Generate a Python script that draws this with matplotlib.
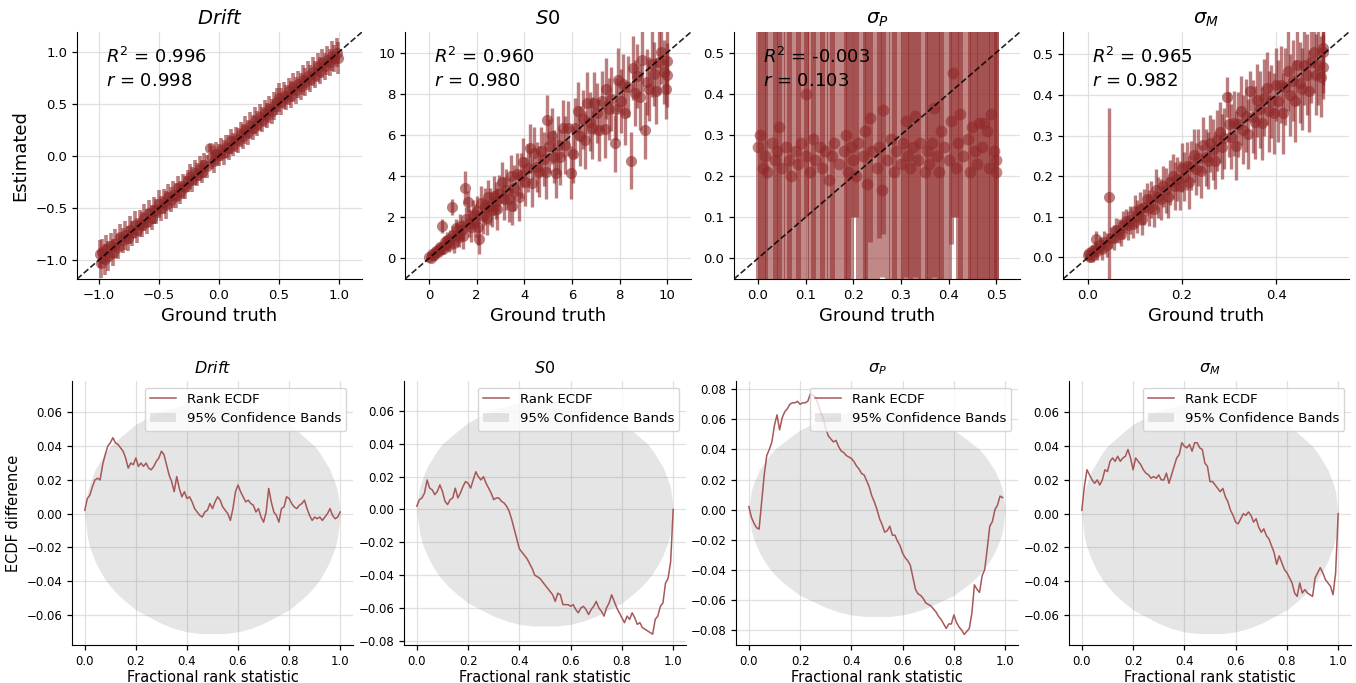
import numpy as np
import matplotlib
matplotlib.use("Agg")
import matplotlib.pyplot as plt
from matplotlib.ticker import MultipleLocator

# ---------------- data ----------------
titles = ["$Drift$", "$S0$", r"$\sigma_P$", r"$\sigma_M$"]
r2_text = ["0.996", "0.960", "-0.003", "0.965"]
r_text = ["0.998", "0.980", "0.103", "0.982"]

drift_true = [-0.99, -0.98, -0.97, -0.95, -0.94, -0.92,
              -0.90, -0.88, -0.86, -0.84, -0.82, -0.80, -0.78, -0.76, -0.74, -0.72,
              -0.70, -0.68, -0.66, -0.64, -0.62, -0.60, -0.58, -0.56, -0.54, -0.52,
              -0.50, -0.48, -0.46, -0.44, -0.42, -0.40, -0.38, -0.36, -0.34, -0.32,
              -0.30, -0.28, -0.26, -0.24, -0.22, -0.20, -0.18, -0.16, -0.14, -0.12, -0.10,
              -0.07, -0.06, -0.04, -0.02,
              0.00, 0.02, 0.04, 0.06, 0.08, 0.10, 0.12, 0.14, 0.16, 0.18,
              0.20, 0.22, 0.24, 0.26, 0.28, 0.30, 0.32, 0.34, 0.36, 0.38,
              0.40, 0.42, 0.44, 0.46, 0.48, 0.50, 0.52, 0.54, 0.56, 0.58,
              0.60, 0.62, 0.64, 0.66, 0.68, 0.70, 0.72, 0.74, 0.76, 0.78,
              0.80, 0.82, 0.84, 0.86, 0.88, 0.90, 0.92, 0.94, 0.96, 0.98,
              0.99]
drift_est = [-0.94, -1.03, -0.92, -0.99, -0.89, -0.96,
             -0.86, -0.93, -0.84, -0.87, -0.78, -0.81, -0.76, -0.79, -0.71, -0.74,
             -0.66, -0.71, -0.65, -0.66, -0.59, -0.63, -0.55, -0.59, -0.52, -0.53,
             -0.46, -0.50, -0.44, -0.47, -0.39, -0.42, -0.37, -0.38, -0.31, -0.35,
             -0.29, -0.30, -0.24, -0.20, -0.23, -0.16, -0.18, -0.12, -0.15, -0.09, -0.10,
             0.08, -0.01, -0.05, 0.02,
             0.01, 0.06, 0.03, 0.09, 0.08, 0.14, 0.11, 0.16, 0.15, 0.21,
             0.19, 0.25, 0.23, 0.29, 0.27, 0.34, 0.31, 0.37, 0.35, 0.41,
             0.39, 0.45, 0.43, 0.48, 0.52, 0.56, 0.52, 0.58, 0.56, 0.62,
             0.59, 0.66, 0.63, 0.69, 0.67, 0.73, 0.71, 0.77, 0.74, 0.81,
             0.78, 0.85, 0.82, 0.89, 0.86, 0.92, 0.90, 0.96, 0.94, 0.99,
             0.94]
drift_err = [0.13, 0.14, 0.12, 0.15, 0.13, 0.14,
             0.12, 0.13, 0.14, 0.12, 0.13, 0.12, 0.14, 0.12, 0.13, 0.12,
             0.13, 0.12, 0.13, 0.12, 0.13, 0.12, 0.13, 0.12, 0.13, 0.12,
             0.13, 0.12, 0.12, 0.13, 0.12, 0.12, 0.13, 0.12, 0.12, 0.11,
             0.12, 0.11, 0.11, 0.12, 0.12, 0.12, 0.11, 0.12, 0.11, 0.12, 0.11,
             0.04, 0.11, 0.11, 0.11,
             0.11, 0.11, 0.12, 0.11, 0.12, 0.12, 0.11, 0.12, 0.12, 0.12,
             0.12, 0.13, 0.12, 0.13, 0.12, 0.13, 0.12, 0.13, 0.12, 0.13,
             0.12, 0.13, 0.12, 0.13, 0.13, 0.14, 0.13, 0.13, 0.12, 0.13,
             0.13, 0.14, 0.13, 0.13, 0.13, 0.14, 0.13, 0.14, 0.13, 0.14,
             0.13, 0.14, 0.13, 0.14, 0.13, 0.14, 0.13, 0.14, 0.13, 0.14,
             0.15]

s0_true = [0.02, 0.08, 0.12, 0.18, 0.22, 0.28, 0.32, 0.38, 0.42, 0.48, 0.52, 0.56, 0.60, 0.66, 0.72, 0.78, 0.84, 0.90, 0.96,
           1.00, 1.06, 1.12, 1.18, 1.25, 1.32, 1.38, 1.45, 1.53, 1.58, 1.63, 1.70, 1.78, 1.85, 1.92,
           2.00, 2.06, 2.12, 2.20, 2.28, 2.35, 2.42, 2.50, 2.58, 2.65, 2.72, 2.80, 2.88, 2.95,
           3.05, 3.15, 3.25, 3.35, 3.45, 3.50, 3.58, 3.68, 3.78, 3.88, 3.95,
           4.05, 4.15, 4.25, 4.32, 4.42, 4.52, 4.62, 4.72, 4.82, 4.90, 4.97,
           5.05, 5.15, 5.25, 5.35, 5.42, 5.52, 5.62, 5.72, 5.82, 5.96,
           6.05, 6.15, 6.25, 6.35, 6.45, 6.55, 6.65, 6.75, 6.85, 6.95,
           7.05, 7.15, 7.25, 7.38, 7.45, 7.55, 7.65, 7.80, 7.85, 7.95,
           8.05, 8.15, 8.25, 8.35, 8.48, 8.55, 8.65, 8.75, 8.85, 8.95,
           9.08, 9.15, 9.25, 9.35, 9.45, 9.55, 9.65, 9.75, 9.85, 9.96, 9.98, 10.00]
s0_est = [0.05, 0.00, 0.21, 0.17, 0.17, 0.34, 0.32, 0.29, 0.46, 0.56, 0.46, 1.57, 0.48, 0.80, 0.68, 0.88, 0.64, 0.94, 2.51,
          1.12, 0.74, 1.48, 1.14, 1.05, 1.56, 1.38, 1.09, 3.44, 1.90, 2.76, 1.74, 1.54, 2.13, 1.84,
          2.28, 1.51, 0.92, 2.70, 2.06, 2.52, 1.98, 3.00, 2.52, 2.37, 3.05, 2.80, 2.38, 3.17,
          3.69, 2.91, 3.33, 2.87, 4.01, 2.54, 3.42, 4.08, 2.98, 4.04, 4.67,
          3.73, 4.39, 5.35, 3.68, 5.14, 4.44, 4.22, 5.20, 4.82, 4.18, 6.73,
          5.45, 5.95, 4.95, 4.13, 5.52, 4.92, 6.32, 5.52, 6.32, 4.17,
          5.05, 6.35, 7.15, 5.95, 6.75, 5.75, 7.55, 6.65, 6.35, 7.55,
          7.05, 6.25, 7.65, 6.27, 8.25, 7.25, 7.75, 5.59, 7.25, 8.65,
          7.65, 8.45, 7.05, 8.35, 4.75, 9.25, 8.05, 8.85, 7.85, 9.65,
          6.22, 8.55, 8.25, 9.45, 8.95, 8.15, 9.55, 10.05, 9.05, 8.25, 9.58, 8.90]
s0_err = [0.05, 0.08, 0.10, 0.12, 0.15, 0.15, 0.20, 0.18, 0.25, 0.22, 0.30, 0.35, 0.25, 0.30, 0.30, 0.40, 0.35, 0.45, 0.40,
          0.45, 0.50, 0.45, 0.55, 0.50, 0.60, 0.50, 0.65, 0.80, 0.60, 0.50, 0.70, 0.75, 0.70, 0.80,
          0.75, 0.85, 0.70, 0.80, 0.85, 0.90, 0.85, 0.80, 0.90, 0.85, 0.95, 0.90, 1.00, 0.90,
          1.00, 1.05, 1.00, 1.10, 1.00, 0.90, 1.10, 1.05, 1.15, 1.10, 1.20,
          1.20, 1.15, 1.20, 1.20, 1.25, 1.20, 1.25, 1.20, 1.30, 1.30, 1.20,
          1.30, 1.35, 1.30, 1.20, 1.40, 1.35, 1.40, 1.40, 1.35, 1.30,
          1.40, 1.45, 1.40, 1.45, 1.45, 1.40, 1.50, 1.45, 1.50, 1.50,
          1.45, 1.50, 1.45, 1.40, 1.50, 1.50, 1.55, 1.40, 1.50, 1.55,
          1.55, 1.50, 1.55, 1.50, 1.40, 1.55, 1.60, 1.55, 1.60, 1.55,
          1.40, 1.60, 1.55, 1.60, 1.55, 1.60, 1.55, 1.60, 1.55, 1.50, 1.60, 1.55]

sp_true = [0.00, 0.005, 0.01, 0.015, 0.02, 0.03, 0.035, 0.04, 0.045, 0.05,
           0.06, 0.065, 0.07, 0.08, 0.085, 0.09, 0.10, 0.102, 0.11, 0.115,
           0.12, 0.13, 0.135, 0.14, 0.15, 0.155, 0.16, 0.17, 0.18, 0.185,
           0.19, 0.195, 0.20, 0.205, 0.21, 0.22, 0.225, 0.23, 0.235, 0.24,
           0.25, 0.255, 0.26, 0.262, 0.27, 0.28, 0.285, 0.29, 0.30, 0.305,
           0.31, 0.315, 0.32, 0.325, 0.33, 0.335, 0.34, 0.35, 0.355, 0.36,
           0.365, 0.37, 0.375, 0.38, 0.385, 0.39, 0.40, 0.405, 0.41, 0.415,
           0.42, 0.425, 0.43, 0.44, 0.445, 0.45, 0.455, 0.46, 0.465, 0.47,
           0.475, 0.48, 0.485, 0.49, 0.495, 0.50, 0.50]
sp_est = [0.27, 0.30, 0.22, 0.25, 0.21, 0.28, 0.24, 0.26, 0.32, 0.22,
          0.27, 0.24, 0.20, 0.26, 0.23, 0.28, 0.40, 0.25, 0.21, 0.29,
          0.24, 0.27, 0.22, 0.26, 0.19, 0.25, 0.28, 0.23, 0.26, 0.30,
          0.21, 0.27, 0.24, 0.20, 0.28, 0.25, 0.31, 0.18, 0.34, 0.26,
          0.22, 0.27, 0.165, 0.36, 0.24, 0.29, 0.21, 0.26, 0.23, 0.28,
          0.335, 0.25, 0.22, 0.27, 0.345, 0.24, 0.28, 0.21, 0.26, 0.23,
          0.28, 0.365, 0.25, 0.21, 0.31, 0.27, 0.24, 0.335, 0.45, 0.22,
          0.28, 0.35, 0.25, 0.29, 0.21, 0.32, 0.26, 0.23, 0.33, 0.27,
          0.33, 0.31, 0.22, 0.35, 0.26, 0.24, 0.21]
sp_lo = [0.32, 0.35, 0.27, 0.30, 0.26, 0.33, 0.29, 0.31, 0.37, 0.27,
         0.32, 0.29, 0.25, 0.31, 0.28, 0.33, 0.30, 0.30, 0.26, 0.34,
         0.29, 0.32, 0.27, 0.31, 0.24, 0.30, 0.33, 0.28, 0.31, 0.35,
         0.26, 0.32, 0.14, 0.10, 0.33, 0.30, 0.36, 0.23, 0.30, 0.31,
         0.27, 0.22, 0.21, 0.30, 0.29, 0.34, 0.26, 0.31, 0.28, 0.33,
         0.38, 0.30, 0.27, 0.32, 0.39, 0.29, 0.33, 0.26, 0.31, 0.28,
         0.33, 0.41, 0.30, 0.26, 0.36, 0.32, 0.29, 0.30, 0.35, 0.12,
         0.33, 0.40, 0.30, 0.34, 0.26, 0.37, 0.31, 0.28, 0.38, 0.32,
         0.38, 0.36, 0.27, 0.40, 0.31, 0.29, 0.26]
sp_hi = [0.35, 0.32, 0.40, 0.37, 0.41, 0.34, 0.38, 0.36, 0.30, 0.40,
         0.35, 0.38, 0.42, 0.36, 0.39, 0.34, 0.22, 0.37, 0.41, 0.33,
         0.38, 0.35, 0.40, 0.36, 0.43, 0.37, 0.34, 0.39, 0.36, 0.32,
         0.41, 0.35, 0.38, 0.42, 0.34, 0.37, 0.31, 0.44, 0.28, 0.36,
         0.40, 0.35, 0.46, 0.26, 0.38, 0.33, 0.41, 0.36, 0.39, 0.34,
         0.29, 0.37, 0.40, 0.35, 0.28, 0.38, 0.34, 0.41, 0.36, 0.39,
         0.34, 0.26, 0.37, 0.41, 0.31, 0.35, 0.38, 0.29, 0.17, 0.40,
         0.34, 0.27, 0.37, 0.33, 0.41, 0.30, 0.36, 0.39, 0.29, 0.35,
         0.29, 0.31, 0.40, 0.27, 0.36, 0.38, 0.41]

sm_true = [0.00, 0.002, 0.005, 0.008, 0.01, 0.015, 0.018, 0.02, 0.025, 0.03,
           0.035, 0.04, 0.045, 0.05, 0.055, 0.06, 0.065, 0.07, 0.075, 0.08,
           0.085, 0.09, 0.095, 0.10, 0.105, 0.11, 0.115, 0.12, 0.125, 0.13,
           0.135, 0.14, 0.145, 0.15, 0.155, 0.16, 0.165, 0.17, 0.175, 0.18,
           0.185, 0.19, 0.195, 0.20, 0.205, 0.21, 0.215, 0.22, 0.225, 0.23,
           0.235, 0.24, 0.245, 0.25, 0.255, 0.26, 0.265, 0.27, 0.275, 0.28,
           0.285, 0.29, 0.295, 0.30, 0.305, 0.31, 0.315, 0.32, 0.325, 0.33,
           0.335, 0.34, 0.345, 0.35, 0.355, 0.36, 0.365, 0.37, 0.375, 0.38,
           0.385, 0.39, 0.395, 0.40, 0.405, 0.41, 0.415, 0.42, 0.425, 0.43,
           0.435, 0.44, 0.445, 0.45, 0.455, 0.46, 0.465, 0.47, 0.475, 0.48,
           0.485, 0.49, 0.495, 0.50, 0.50, 0.50]
sm_est = [0.005, 0.01, 0.00, 0.015, 0.005, 0.02, 0.045, 0.015, 0.03, 0.02,
          0.039, 0.030, 0.148, 0.049, 0.049, 0.067, 0.065, 0.059, 0.080, 0.090,
          0.079, 0.092, 0.083, 0.114, 0.101, 0.120, 0.095, 0.124, 0.143, 0.122,
          0.143, 0.120, 0.167, 0.148, 0.143, 0.175, 0.165, 0.148, 0.185, 0.200,
          0.176, 0.193, 0.177, 0.221, 0.199, 0.225, 0.185, 0.226, 0.252, 0.218,
          0.246, 0.212, 0.277, 0.247, 0.238, 0.281, 0.265, 0.238, 0.289, 0.308,
          0.273, 0.294, 0.395, 0.328, 0.297, 0.330, 0.275, 0.328, 0.361, 0.314,
          0.349, 0.304, 0.410, 0.346, 0.333, 0.387, 0.365, 0.330, 0.393, 0.416,
          0.360, 0.385, 0.355, 0.425, 0.385, 0.425, 0.355, 0.420, 0.460, 0.400,
          0.435, 0.385, 0.475, 0.430, 0.415, 0.475, 0.450, 0.410, 0.480, 0.505,
          0.450, 0.475, 0.445, 0.515, 0.470, 0.505]
sm_err = [0.01, 0.012, 0.012, 0.015, 0.015, 0.02, 0.02, 0.02, 0.02, 0.025,
          0.025, 0.03, 0.22, 0.025, 0.03, 0.03, 0.03, 0.03, 0.035, 0.03,
          0.035, 0.035, 0.035, 0.04, 0.04, 0.04, 0.04, 0.045, 0.04, 0.045,
          0.045, 0.045, 0.05, 0.05, 0.05, 0.05, 0.055, 0.05, 0.055, 0.055,
          0.06, 0.055, 0.06, 0.06, 0.06, 0.06, 0.065, 0.06, 0.065, 0.065,
          0.07, 0.065, 0.07, 0.07, 0.07, 0.07, 0.075, 0.07, 0.075, 0.075,
          0.08, 0.075, 0.05, 0.08, 0.08, 0.08, 0.085, 0.08, 0.085, 0.085,
          0.09, 0.085, 0.05, 0.09, 0.09, 0.09, 0.095, 0.09, 0.095, 0.09,
          0.10, 0.09, 0.10, 0.09, 0.10, 0.095, 0.10, 0.095, 0.10, 0.10,
          0.10, 0.10, 0.10, 0.10, 0.10, 0.10, 0.10, 0.10, 0.10, 0.10,
          0.10, 0.10, 0.10, 0.09, 0.08, 0.10]

# ECDF difference curves (fractional rank on a 0.01 grid)
ecdf_z = [0.00, 0.01, 0.02, 0.03, 0.04, 0.05, 0.06, 0.07, 0.08, 0.09,
          0.10, 0.11, 0.12, 0.13, 0.14, 0.15, 0.16, 0.17, 0.18, 0.19,
          0.20, 0.21, 0.22, 0.23, 0.24, 0.25, 0.26, 0.27, 0.28, 0.29,
          0.30, 0.31, 0.32, 0.33, 0.34, 0.35, 0.36, 0.37, 0.38, 0.39,
          0.40, 0.41, 0.42, 0.43, 0.44, 0.45, 0.46, 0.47, 0.48, 0.49,
          0.50, 0.51, 0.52, 0.53, 0.54, 0.55, 0.56, 0.57, 0.58, 0.59,
          0.60, 0.61, 0.62, 0.63, 0.64, 0.65, 0.66, 0.67, 0.68, 0.69,
          0.70, 0.71, 0.72, 0.73, 0.74, 0.75, 0.76, 0.77, 0.78, 0.79,
          0.80, 0.81, 0.82, 0.83, 0.84, 0.85, 0.86, 0.87, 0.88, 0.89,
          0.90, 0.91, 0.92, 0.93, 0.94, 0.95, 0.96, 0.97, 0.98, 0.99,
          1.00]
ecdf_drift = [0.002, 0.009, 0.011, 0.016, 0.020, 0.021, 0.020, 0.029, 0.035, 0.040,
              0.042, 0.045, 0.042, 0.041, 0.039, 0.037, 0.033, 0.027, 0.030, 0.029,
              0.033, 0.028, 0.030, 0.028, 0.030, 0.027, 0.026, 0.028, 0.031, 0.033,
              0.037, 0.035, 0.029, 0.023, 0.019, 0.013, 0.022, 0.015, 0.010, 0.013,
              0.009, 0.010, 0.007, 0.003, 0.001, -0.001, -0.002, 0.001, 0.002, 0.006,
              0.003, 0.007, 0.010, 0.008, 0.004, 0.002, 0.000, -0.004, 0.003, 0.013,
              0.017, 0.013, 0.010, 0.007, 0.008, 0.006, 0.005, 0.001, 0.003, -0.002,
              -0.005, 0.001, 0.015, 0.007, 0.001, -0.001, -0.005, 0.003, 0.004, 0.010,
              0.009, 0.006, 0.004, 0.003, 0.005, 0.006, 0.008, 0.003, -0.001, -0.004,
              -0.002, -0.003, -0.002, -0.004, -0.002, 0.000, 0.003, -0.001, -0.003, -0.002,
              0.001]
ecdf_s0 = [0.002, 0.006, 0.007, 0.010, 0.018, 0.013, 0.012, 0.009, 0.011, 0.015,
           0.011, 0.005, 0.003, 0.006, 0.007, 0.013, 0.007, 0.010, 0.014, 0.017,
           0.016, 0.013, 0.018, 0.023, 0.020, 0.018, 0.020, 0.016, 0.013, 0.010,
           0.006, 0.007, 0.007, 0.005, 0.004, 0.002, -0.001, -0.006, -0.012, -0.018,
           -0.024, -0.026, -0.028, -0.030, -0.033, -0.036, -0.040, -0.041, -0.042, -0.044,
           -0.046, -0.048, -0.050, -0.052, -0.056, -0.051, -0.052, -0.058, -0.058, -0.058,
           -0.059, -0.058, -0.061, -0.063, -0.060, -0.059, -0.061, -0.064, -0.061, -0.059,
           -0.056, -0.060, -0.062, -0.065, -0.060, -0.057, -0.052, -0.056, -0.060, -0.063,
           -0.066, -0.069, -0.065, -0.067, -0.063, -0.066, -0.070, -0.069, -0.072, -0.073,
           -0.074, -0.075, -0.076, -0.067, -0.065, -0.059, -0.057, -0.045, -0.042, -0.032,
           0.000]
ecdf_sp = [0.002, -0.005, -0.009, -0.012, -0.013, 0.005, 0.023, 0.036, 0.040, 0.045,
           0.056, 0.063, 0.053, 0.061, 0.065, 0.067, 0.070, 0.071, 0.071, 0.072,
           0.070, 0.071, 0.071, 0.072, 0.077, 0.076, 0.075, 0.070, 0.065, 0.061,
           0.054, 0.049, 0.047, 0.045, 0.046, 0.042, 0.039, 0.038, 0.036, 0.035,
           0.034, 0.032, 0.029, 0.027, 0.024, 0.023, 0.019, 0.015, 0.009, 0.005,
           0.000, -0.006, -0.010, -0.015, -0.014, -0.011, -0.017, -0.017, -0.021, -0.024,
           -0.029, -0.032, -0.034, -0.037, -0.045, -0.053, -0.056, -0.057, -0.059, -0.062,
           -0.063, -0.064, -0.066, -0.068, -0.071, -0.073, -0.076, -0.079, -0.076, -0.076,
           -0.070, -0.075, -0.078, -0.080, -0.083, -0.081, -0.079, -0.069, -0.050, -0.053,
           -0.055, -0.044, -0.040, -0.026, -0.011, -0.008, 0.000, 0.003, 0.009, 0.008]
ecdf_sm = [0.002, 0.016, 0.026, 0.023, 0.020, 0.018, 0.020, 0.017, 0.020, 0.026,
           0.025, 0.031, 0.033, 0.031, 0.034, 0.031, 0.033, 0.034, 0.038, 0.033,
           0.026, 0.033, 0.031, 0.029, 0.026, 0.024, 0.023, 0.021, 0.022, 0.021,
           0.023, 0.020, 0.020, 0.024, 0.018, 0.023, 0.028, 0.033, 0.035, 0.042,
           0.040, 0.039, 0.041, 0.037, 0.042, 0.042, 0.039, 0.038, 0.030, 0.028,
           0.019, 0.019, 0.017, 0.015, 0.013, 0.015, 0.010, 0.007, 0.002, -0.001,
           -0.005, -0.006, -0.003, 0.000, -0.001, 0.001, -0.001, -0.005, -0.003, -0.008,
           -0.011, -0.009, -0.013, -0.015, -0.019, -0.023, -0.030, -0.025, -0.029, -0.033,
           -0.035, -0.038, -0.041, -0.047, -0.049, -0.041, -0.047, -0.045, -0.047, -0.048,
           -0.049, -0.038, -0.035, -0.032, -0.035, -0.039, -0.041, -0.043, -0.048, -0.035,
           0.000]

# 95% simultaneous confidence band (read at selected ranks)
band_z = [0.0, 0.01, 0.02, 0.04, 0.06, 0.08, 0.10, 0.13, 0.16, 0.20, 0.25, 0.30, 0.35, 0.40, 0.45, 0.50,
          0.55, 0.60, 0.65, 0.70, 0.75, 0.80, 0.84, 0.87, 0.90, 0.92, 0.94, 0.96, 0.98, 0.99, 1.0]
band_upper = [0.0, 0.013, 0.018, 0.026, 0.031, 0.036, 0.040, 0.044, 0.048, 0.053, 0.057, 0.061, 0.063, 0.065, 0.066, 0.066,
              0.066, 0.065, 0.063, 0.061, 0.057, 0.053, 0.048, 0.044, 0.040, 0.036, 0.031, 0.026, 0.018, 0.013, 0.0]
band_lower = [0.0, -0.014, -0.020, -0.028, -0.034, -0.039, -0.043, -0.048, -0.052, -0.057, -0.061, -0.065, -0.068, -0.070, -0.071, -0.071,
              -0.071, -0.070, -0.068, -0.065, -0.061, -0.057, -0.052, -0.048, -0.043, -0.039, -0.034, -0.028, -0.020, -0.014, 0.0]

# ---------------- style ----------------
RED = "#8f2727"
ECDF_RED = "#a34f4f"
W, H = 1356, 683
fig = plt.figure(figsize=(W / 100, H / 100), dpi=100)


def ax_px(l, t, r, b):
    return fig.add_axes([l / W, 1 - b / H, (r - l) / W, (b - t) / H])


def style(ax, tick_fs):
    for s in ["top", "right"]:
        ax.spines[s].set_visible(False)
    ax.grid(True, color="#d9d9d9", linewidth=0.9, alpha=0.8)
    ax.set_axisbelow(True)
    ax.tick_params(labelsize=tick_fs, length=3.5, width=0.9)


top_boxes = [(77, 32, 362, 279), (405, 32, 691, 279), (734, 32, 1020, 279), (1063, 32, 1349, 279)]
bot_boxes = [(72, 381, 353, 645), (404, 381, 686, 645), (736, 381, 1018, 645), (1069, 381, 1351, 645)]

top_lims = [(-1.18, 1.19), (-1.0, 11.0), (-0.05, 0.55), (-0.053, 0.555)]
top_xstep = [0.5, 2, 0.1, 0.2]
top_ystep = [0.5, 2, 0.1, 0.1]
ALPHA = 0.6

# ---------------- top row: recovery ----------------
for i in range(4):
    ax = ax_px(*top_boxes[i])
    style(ax, 9.5)
    if i == 0:
        ax.errorbar(drift_true, drift_est, yerr=drift_err, fmt="o", color=RED, alpha=ALPHA,
                    markersize=8, elinewidth=2.6, markeredgewidth=0)
    elif i == 1:
        ax.errorbar(s0_true, s0_est, yerr=s0_err, fmt="o", color=RED, alpha=ALPHA,
                    markersize=8, elinewidth=2.4, markeredgewidth=0)
    elif i == 2:
        ax.errorbar(sp_true, sp_est, yerr=[sp_lo, sp_hi], fmt="o", color=RED, alpha=0.55,
                    markersize=8.5, elinewidth=3.6, markeredgewidth=0)
    else:
        ax.errorbar(sm_true, sm_est, yerr=sm_err, fmt="o", color=RED, alpha=ALPHA,
                    markersize=8, elinewidth=2.4, markeredgewidth=0)
    ax.set_xlim(*top_lims[i])
    ax.set_ylim(*top_lims[i])
    ax.axline((0, 0), slope=1, color="black", linestyle="--", linewidth=1.2, alpha=0.85, zorder=4)
    ax.xaxis.set_major_locator(MultipleLocator(top_xstep[i]))
    ax.yaxis.set_major_locator(MultipleLocator(top_ystep[i]))
    ax.set_title(titles[i], fontsize=14, pad=6)
    ax.set_xlabel("Ground truth", fontsize=13)
    ax.text(0.1, 0.9, "$R^2$ = " + r2_text[i], transform=ax.transAxes, ha="left", va="center",
            fontsize=13, zorder=5)
    ax.text(0.1, 0.8, "$r$ = " + r_text[i], transform=ax.transAxes, ha="left", va="center",
            fontsize=13, zorder=5)
    if i == 0:
        ax.set_ylabel("Estimated", fontsize=13)

# ---------------- bottom row: SBC ECDF ----------------
ecdf_vals = [ecdf_drift, ecdf_s0, ecdf_sp, ecdf_sm]
bot_ylims = [(-0.0778, 0.0786), (-0.0826, 0.0783), (-0.090, 0.0855), (-0.0778, 0.0786)]
for i in range(4):
    ax = ax_px(*bot_boxes[i])
    style(ax, 8.5)
    vals = ecdf_vals[i]
    ax.plot(ecdf_z[:len(vals)], vals, color=ECDF_RED, linewidth=1.1, alpha=0.95, label="Rank ECDF")
    ax.fill_between(band_z, band_lower, band_upper, color="grey", alpha=0.2, linewidth=0,
                    label="95% Confidence Bands")
    ax.set_xlim(-0.05, 1.05)
    ax.set_ylim(*bot_ylims[i])
    ax.xaxis.set_major_locator(MultipleLocator(0.2))
    ax.yaxis.set_major_locator(MultipleLocator(0.02))
    ax.set_title(titles[i], fontsize=11.5, pad=6)
    ax.set_xlabel("Fractional rank statistic", fontsize=10.5, labelpad=2)
    if i == 0:
        ax.set_ylabel("ECDF difference", fontsize=10.5)
    ax.legend(loc="upper right", fontsize=9.5, framealpha=0.8, borderpad=0.4, handlelength=2.0)

fig.savefig("out.png", dpi=100)
